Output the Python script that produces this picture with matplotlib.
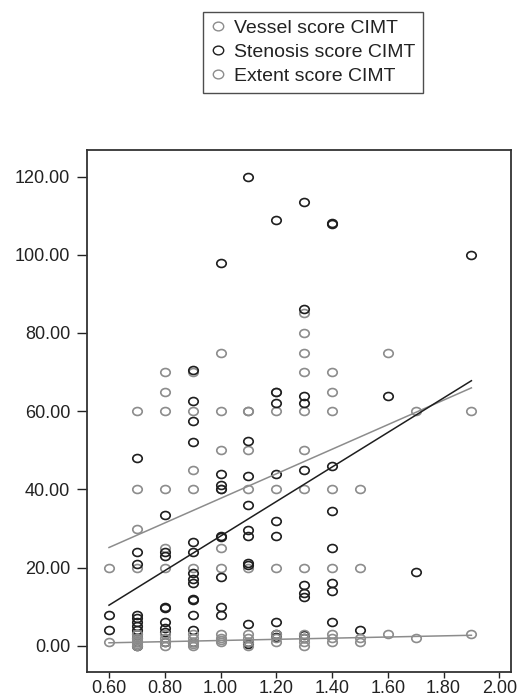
import numpy as np
import matplotlib
matplotlib.use('Agg')
import matplotlib.pyplot as plt
from matplotlib.path import Path
from matplotlib.transforms import Affine2D
from matplotlib.lines import Line2D

plt.rcParams['font.family'] = ['Liberation Sans', 'DejaVu Sans']

###############################################################################
# Data (CIMT on x, scores on y)
vessel_x = [0.6,
            0.7, 0.7, 0.7, 0.7,
            0.8, 0.8, 0.8, 0.8, 0.8, 0.8,
            0.9, 0.9, 0.9, 0.9, 0.9,
            1.0, 1.0, 1.0, 1.0, 1.0, 1.0,
            1.1, 1.1, 1.1, 1.1, 1.1,
            1.2, 1.2, 1.2, 1.2,
            1.3, 1.3, 1.3, 1.3, 1.3, 1.3, 1.3, 1.3,
            1.4, 1.4, 1.4, 1.4, 1.4,
            1.5, 1.5, 1.6, 1.7, 1.9]
vessel_y = [20,
            60, 40, 30, 20,
            70, 65, 60, 40, 25, 20,
            70, 60, 45, 40, 20,
            75, 60, 50, 40, 25, 20,
            60, 60, 50, 40, 20,
            65, 60, 40, 20,
            85, 80, 75, 70, 60, 50, 40, 20,
            70, 65, 60, 40, 20,
            40, 20, 75, 60, 60]

stenosis_x = [0.6, 0.6,
              0.7, 0.7, 0.7, 0.7, 0.7, 0.7, 0.7, 0.7, 0.7, 0.7, 0.7, 0.7,
              0.8, 0.8, 0.8, 0.8, 0.8, 0.8, 0.8, 0.8, 0.8,
              0.9, 0.9, 0.9, 0.9, 0.9, 0.9, 0.9, 0.9, 0.9, 0.9, 0.9, 0.9, 0.9, 0.9,
              1.0, 1.0, 1.0, 1.0, 1.0, 1.0, 1.0, 1.0, 1.0,
              1.1, 1.1, 1.1, 1.1, 1.1, 1.1, 1.1, 1.1, 1.1, 1.1, 1.1,
              1.2, 1.2, 1.2, 1.2, 1.2, 1.2, 1.2, 1.2, 1.2,
              1.3, 1.3, 1.3, 1.3, 1.3, 1.3, 1.3, 1.3, 1.3, 1.3,
              1.4, 1.4, 1.4, 1.4, 1.4, 1.4, 1.4, 1.4,
              1.5, 1.6, 1.7, 1.9]
stenosis_y = [8, 4,
              48, 24, 21, 8, 7, 6, 5, 4, 3, 2, 1, 0,
              33.5, 24, 23, 10, 9.8, 6, 4.5, 3.5, 1,
              70.5, 62.5, 57.5, 52, 26.5, 24, 18.5, 17, 16, 12, 11.8, 8, 4, 1,
              98, 44, 41, 40, 28, 27.8, 17.5, 10, 8,
              120, 52.5, 43.5, 36, 29.5, 28, 21.2, 20.6, 5.5, 1, 0.5,
              109, 65, 62, 44, 32, 28, 6, 3, 2.2,
              113.5, 86, 64, 62, 45, 15.5, 13.5, 12.5, 2.8, 2,
              108, 107.8, 46, 34.5, 25, 16, 14, 6,
              4, 64, 19, 100]

extent_x = [0.6,
            0.7, 0.7, 0.7, 0.7, 0.7, 0.7,
            0.8, 0.8, 0.8, 0.8,
            0.9, 0.9, 0.9, 0.9, 0.9,
            1.0, 1.0, 1.0, 1.0,
            1.1, 1.1, 1.1, 1.1,
            1.2, 1.2, 1.2,
            1.3, 1.3, 1.3, 1.3,
            1.4, 1.4, 1.4,
            1.5, 1.5, 1.6, 1.7, 1.9]
extent_y = [1,
            0, 0.5, 1, 1.5, 2, 3,
            0, 1, 2, 3,
            0, 0.5, 1, 2, 3,
            1, 1.5, 2, 3,
            0, 1, 2, 3,
            1, 2, 3,
            0, 1, 2, 3,
            1, 2, 3,
            1, 2, 3, 2, 3]

# linear fits (intercept, slope) as drawn in the figure
fit_vessel = [6.3, 31.4]
fit_stenosis = [-16.1, 44.15]
fit_extent = [-0.12, 1.485]

labels = ['Vessel score CIMT', 'Stenosis score CIMT', 'Extent score CIMT']
xticks = [0.6, 0.8, 1.0, 1.2, 1.4, 1.6, 1.8, 2.0]
yticks = [0, 20, 40, 60, 80, 100, 120]
###############################################################################
black = '#1e1e1e'
gray = '#8c8c8c'

ell = Path.unit_circle().transformed(Affine2D().scale(1.0, 0.84))

fig = plt.figure(figsize=(5.23, 6.98), dpi=100)
ax = fig.add_axes([0.1663, 0.0372, 0.8107, 0.748])

series = [(vessel_x, vessel_y, gray, fit_vessel),
          (stenosis_x, stenosis_y, black, fit_stenosis),
          (extent_x, extent_y, gray, fit_extent)]
for xs, ys, col, fit in series:
    ax.plot(xs, ys, linestyle='none', marker=ell, markersize=6.8,
            markerfacecolor='none', markeredgecolor=col, markeredgewidth=1.2)
for xs, ys, col, fit in series:
    xl = np.array([min(xs), max(xs)])
    ax.plot(xl, fit[0] + fit[1]*xl, color=col, linewidth=1.1)

ax.set_xlim(0.521, 2.042)
ax.set_ylim(-6.7, 126.8)
ax.set_xticks(xticks)
ax.set_yticks(yticks)
ax.set_xticklabels(['%.2f' % v for v in xticks])
ax.set_yticklabels(['%.2f' % v for v in yticks])
ax.tick_params(direction='out', length=7, width=1.0, labelsize=13, colors='#222222', pad=5)
ax.tick_params(axis='x', length=4, pad=1.5)
for s in ax.spines.values():
    s.set_linewidth(1.3)
    s.set_color('#333333')

handles = [Line2D([], [], linestyle='none', marker=ell, markersize=7.5,
                  markerfacecolor='none', markeredgecolor=c, markeredgewidth=1.0)
           for c in [gray, black, gray]]
leg = fig.legend(handles, labels, loc='upper left', bbox_to_anchor=(0.388, 0.983),
                 borderaxespad=0, fontsize=14, frameon=True, fancybox=False,
                 handlelength=0.7, handletextpad=0.5, labelspacing=0.32,
                 borderpad=0.4)
leg.get_frame().set_edgecolor('#222222')
leg.get_frame().set_linewidth(1.0)
for t in leg.get_texts():
    t.set_color('#222222')

fig.savefig('out.png', dpi=100)
